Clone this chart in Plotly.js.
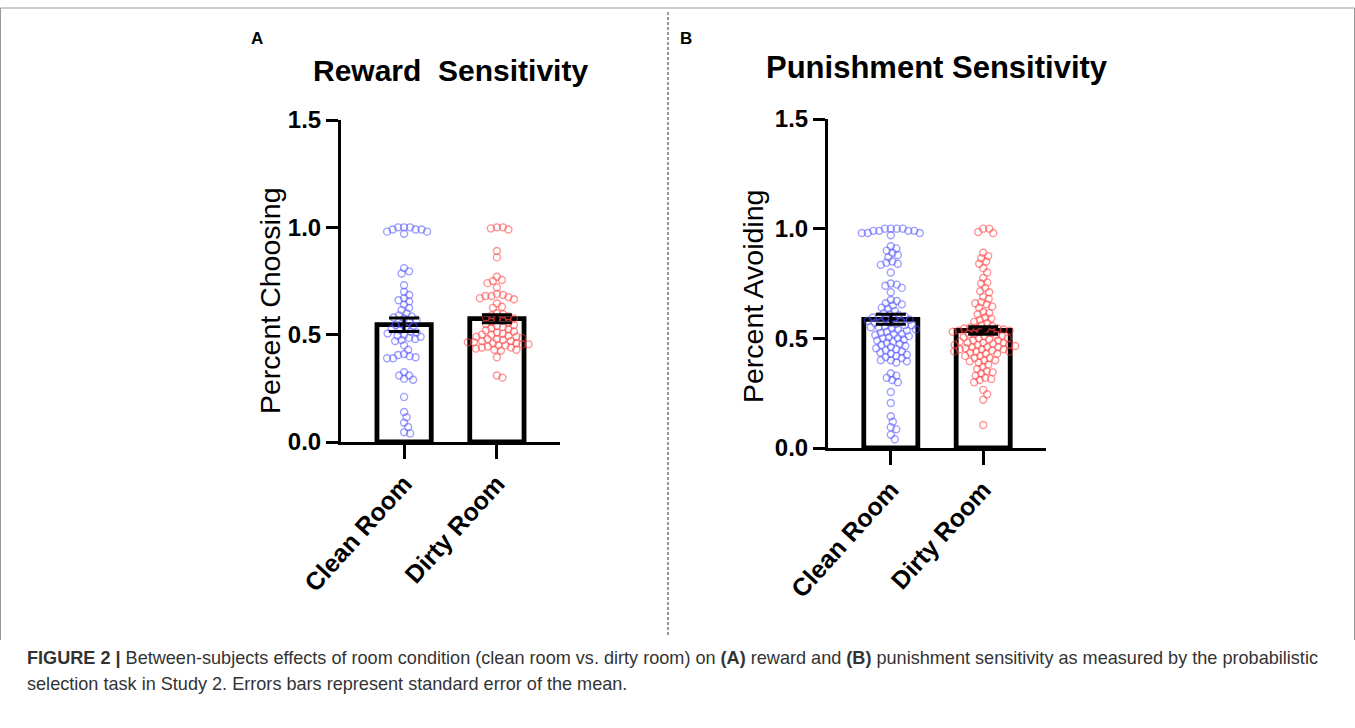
<!DOCTYPE html>
<html>
<head>
<meta charset="utf-8">
<script src="https://cdn.plot.ly/plotly-3.0.1.min.js"></script>
<style>html,body{margin:0;padding:0;background:#fff;}#chart{width:1355px;height:728px;}</style>
</head>
<body>
<div id="chart"></div>
<script>
// ---------------- data ----------------
const categories = ['Clean Room', 'Dirty Room'];
const yTickVals = [0, 0.5, 1.0, 1.5];
const yTickText = ['0.0', '0.5', '1.0', '1.5'];

const rewardClean = [
  1.0, 0.99, 1.0, 0.99, 0.98, 0.97, 0.98, 0.99, 1.0,
  0.81, 0.795, 0.785,
  0.73, 0.70, 0.685, 0.67, 0.66, 0.655, 0.64, 0.625, 0.615, 0.60,
  0.59, 0.585, 0.58, 0.575, 0.57, 0.56, 0.55, 0.545, 0.54, 0.53, 0.525,
  0.52, 0.515, 0.51, 0.505, 0.50, 0.495, 0.49, 0.485, 0.48, 0.475, 0.47,
  0.45, 0.43, 0.41, 0.405, 0.40, 0.395, 0.39, 0.39,
  0.325, 0.31, 0.31, 0.295, 0.29,
  0.21, 0.14, 0.115, 0.09, 0.07, 0.045, 0.04
];
const rewardDirty = [
  1.0, 0.995, 0.99, 1.0,
  0.89, 0.86,
  0.77, 0.755, 0.75, 0.74, 0.72,
  0.69, 0.685, 0.68, 0.68, 0.675, 0.67, 0.665,
  0.645, 0.63, 0.625, 0.60, 0.595, 0.59, 0.585,
  0.58, 0.575, 0.57, 0.565, 0.56, 0.555, 0.55, 0.545, 0.54, 0.535, 0.53,
  0.525, 0.52, 0.515, 0.51, 0.505, 0.50, 0.495, 0.49, 0.485, 0.48, 0.475,
  0.47, 0.465, 0.46, 0.455, 0.45,
  0.50, 0.49, 0.48, 0.47, 0.46, 0.45, 0.44, 0.445, 0.455, 0.465,
  0.44, 0.435, 0.43, 0.43, 0.425,
  0.395, 0.31, 0.30
];
const punishClean = [
  1.0, 0.99, 1.0, 0.99, 0.98, 0.99, 1.0, 0.98, 0.97, 0.99, 1.0, 0.98,
  0.92, 0.91, 0.90, 0.89, 0.88, 0.87, 0.85, 0.845, 0.84, 0.835,
  0.80, 0.75, 0.745, 0.74, 0.73, 0.71,
  0.675, 0.67, 0.66, 0.655, 0.65, 0.64, 0.635, 0.625, 0.615,
  0.61, 0.605, 0.60, 0.60, 0.595, 0.59, 0.59, 0.585, 0.58, 0.58,
  0.575, 0.57, 0.57, 0.565, 0.56, 0.56, 0.555, 0.55, 0.55, 0.545,
  0.54, 0.54, 0.535, 0.53, 0.525, 0.52, 0.52, 0.515, 0.51, 0.505,
  0.50, 0.50, 0.495, 0.49, 0.485, 0.48, 0.475, 0.47, 0.465, 0.46,
  0.455, 0.45, 0.445, 0.44, 0.435, 0.43, 0.425, 0.42, 0.415, 0.41,
  0.40, 0.40, 0.395, 0.39, 0.34, 0.33, 0.32, 0.31, 0.30,
  0.255, 0.205, 0.145, 0.12, 0.095, 0.085, 0.06, 0.04
];
const punishDirty = [
  1.0, 1.0, 0.985, 0.98,
  0.89, 0.875, 0.865, 0.85, 0.84, 0.82, 0.80, 0.775, 0.755, 0.75,
  0.73, 0.715, 0.71, 0.69, 0.68, 0.665, 0.66, 0.655, 0.645, 0.64,
  0.62, 0.615, 0.61, 0.595, 0.59, 0.585, 0.575, 0.57,
  0.56, 0.555, 0.55, 0.55, 0.545, 0.545, 0.54, 0.54, 0.535, 0.535,
  0.53, 0.53, 0.525, 0.52, 0.52, 0.515, 0.51, 0.51, 0.505, 0.50,
  0.50, 0.495, 0.49, 0.49, 0.485, 0.48, 0.48, 0.475, 0.47, 0.47,
  0.465, 0.46, 0.46, 0.455, 0.45, 0.45, 0.445, 0.44, 0.44, 0.435,
  0.48, 0.47, 0.46, 0.45, 0.44, 0.43, 0.42, 0.41, 0.40, 0.38,
  0.43, 0.42, 0.41, 0.40, 0.395, 0.39, 0.37, 0.36, 0.35, 0.345,
  0.34, 0.33, 0.32, 0.315, 0.31, 0.30, 0.265, 0.245, 0.22, 0.105
];

// ---------------- layout geometry ----------------
const W = 1355, H = 728;
const FONT = 'Liberation Sans, Arial, Helvetica, sans-serif';
const blue = 'rgba(80,80,255,0.55)';
const red = 'rgba(255,60,60,0.55)';
const xRange = [-0.68, 1.68];
const yRange = [0, 1.5];
const panels = [
  {xd: [341 / W, 560 / W], yd: [1 - 442 / H, 1 - 120 / H], clean: rewardClean, dirty: rewardDirty},
  {xd: [828 / W, 1046 / W], yd: [1 - 448 / H, 1 - 119 / H], clean: punishClean, dirty: punishDirty}
];

function mean(a) { return a.reduce((s, v) => s + v, 0) / a.length; }
function sem(a) {
  const m = mean(a);
  const v = a.reduce((s, x) => s + (x - m) * (x - m), 0) / (a.length - 1);
  return Math.sqrt(v / a.length);
}
// simple beeswarm layout in pixel space
function swarm(values, sx, sy, d) {
  const order = values.map((v, i) => i).sort((a, b) => values[b] - values[a]);
  const placed = [];
  const offs = new Array(values.length);
  for (const i of order) {
    const py = values[i] * sy;
    let best = 0;
    for (let k = 0; k < 400; k++) {
      const c = k === 0 ? 0 : (k % 2 ? 1 : -1) * Math.ceil(k / 2) * 0.5;
      let ok = true;
      for (const p of placed) {
        const dx = c - p.x, dy = py - p.y;
        if (dx * dx + dy * dy < d * d) { ok = false; break; }
      }
      if (ok) { best = c; break; }
    }
    placed.push({x: best, y: py});
    offs[i] = best / sx;
  }
  return offs;
}

const traces = [];
const layout = {
  width: W, height: H,
  margin: {l: 0, r: 0, t: 0, b: 0},
  paper_bgcolor: '#fff', plot_bgcolor: 'rgba(0,0,0,0)',
  showlegend: false,
  font: {family: FONT, color: '#000'},
  annotations: [], shapes: []
};

panels.forEach((p, k) => {
  const xa = k === 0 ? 'x' : 'x2', ya = k === 0 ? 'y' : 'y2';
  const sx = (p.xd[1] - p.xd[0]) * W / (xRange[1] - xRange[0]);
  const sy = (p.yd[1] - p.yd[0]) * H / (yRange[1] - yRange[0]);
  const groups = [p.clean, p.dirty];
  const means = groups.map(mean), sems = groups.map(sem);
  traces.push({
    type: 'bar', x: [0, 1], y: means, xaxis: xa, yaxis: ya, width: 0.585,
    marker: {color: '#fff', line: {color: '#000', width: 4.8}}, hoverinfo: 'skip'
  });
  groups.forEach((g, gi) => {
    const offs = swarm(g, sx, sy, 5.8);
    traces.push({
      type: 'scatter', mode: 'markers', xaxis: xa, yaxis: ya,
      x: g.map((v, i) => gi + offs[i]), y: g,
      marker: {symbol: 'circle-open', size: 7, color: gi === 0 ? blue : red,
               line: {width: 1.4, color: gi === 0 ? blue : red}},
      hoverinfo: 'skip'
    });
  });
  traces.push({
    type: 'scatter', mode: 'markers', xaxis: xa, yaxis: ya,
    x: [0, 1], y: means, marker: {size: 1, color: 'rgba(0,0,0,0)'},
    error_y: {type: 'data', array: sems, visible: true, color: '#000', thickness: 3, width: 15},
    hoverinfo: 'skip'
  });
  const axX = {
    domain: p.xd, range: xRange, anchor: ya,
    tickmode: 'array', tickvals: [0, 1], ticktext: categories, tickangle: -48,
    ticks: 'outside', ticklen: 14, tickwidth: 3, tickcolor: '#000',
    showline: true, linewidth: 3, linecolor: '#000',
    showgrid: false, zeroline: false, fixedrange: true,
    tickfont: {family: FONT, size: 25, color: '#000', weight: 'bold'}
  };
  const axY = {
    domain: p.yd, range: yRange, anchor: xa,
    tickmode: 'array', tickvals: yTickVals, ticktext: yTickText,
    ticks: 'outside', ticklen: 12, tickwidth: 3, tickcolor: '#000',
    showline: true, linewidth: 3, linecolor: '#000',
    showgrid: false, zeroline: false, fixedrange: true,
    tickfont: {family: FONT, size: 24, color: '#000', weight: 'bold'}
  };
  layout[k === 0 ? 'xaxis' : 'xaxis2'] = axX;
  layout[k === 0 ? 'yaxis' : 'yaxis2'] = axY;
});

const ann = (x, y, text, size, opts) => Object.assign({
  xref: 'paper', yref: 'paper', x: x / W, y: 1 - y / H, text: text, showarrow: false,
  xanchor: 'center', yanchor: 'middle', font: {family: FONT, size: size, color: '#000'}
}, opts || {});

layout.annotations.push(
  ann(257, 38, '<b>A</b>', 17),
  ann(686, 38, '<b>B</b>', 17),
  ann(450, 70, '<b>Reward\u00a0 Sensitivity</b>', 30),
  ann(937, 67, '<b>Punishment Sensitivity</b>', 31),
  ann(270, 301, 'Percent Choosing', 28.5, {textangle: -90}),
  ann(753, 297, 'Percent Avoiding', 28.5, {textangle: -90}),
  ann(25, 658, '<b>FIGURE 2 |</b> Between-subjects effects of room condition (clean room vs. dirty room) on <b>(A)</b> reward and <b>(B)</b> punishment sensitivity as measured by the probabilistic', 18,
      {xanchor: 'left', font: {family: FONT, size: 18.1, color: '#333'}}),
  ann(25, 684, 'selection task in Study 2. Errors bars represent standard error of the mean.', 18,
      {xanchor: 'left', font: {family: FONT, size: 18.1, color: '#333'}})
);

const line = (x0, y0, x1, y1, extra) => Object.assign({
  type: 'line', xref: 'paper', yref: 'paper',
  x0: x0 / W, x1: x1 / W, y0: 1 - y0 / H, y1: 1 - y1 / H,
  line: {color: '#999', width: 1}
}, extra || {});
layout.shapes.push(
  line(668, 12, 668, 636, {line: {color: '#555', width: 1.2, dash: '3px,2px'}}),
  line(0.5, 8, 1354.5, 8),
  line(0.5, 8, 0.5, 640),
  line(1354.5, 8, 1354.5, 640)
);

Plotly.newPlot('chart', traces, layout, {staticPlot: true, displayModeBar: false});
</script>
</body>
</html>
